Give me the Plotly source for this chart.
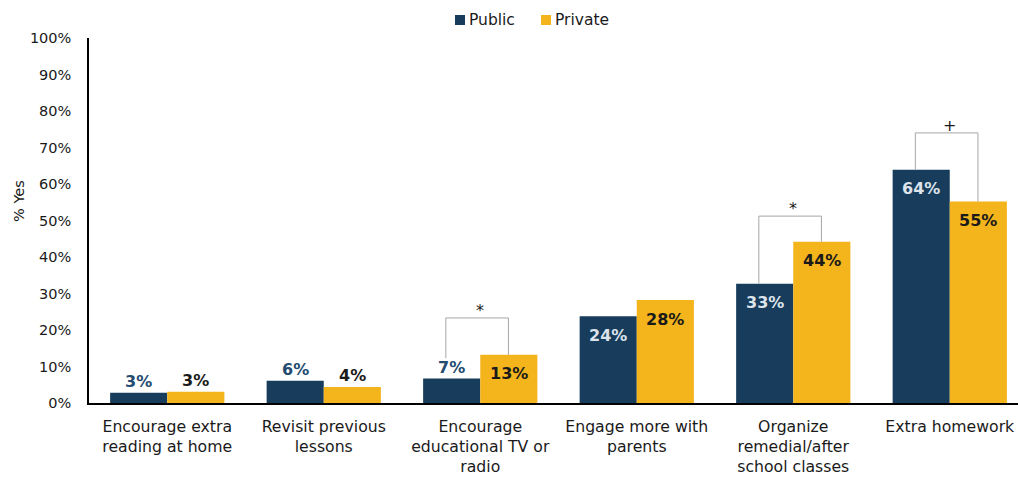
import plotly.graph_objects as go

categories = [
    "Encourage extra<br>reading at home",
    "Revisit previous<br>lessons",
    "Encourage<br>educational TV or<br>radio",
    "Engage more with<br>parents",
    "Organize<br>remedial/after<br>school classes",
    "Extra homework",
]
public_vals = [2.8, 6.1, 6.7, 23.8, 32.7, 63.9]
private_vals = [3.1, 4.4, 13.2, 28.2, 44.2, 55.2]
public_labels = ["3%", "6%", "7%", "24%", "33%", "64%"]
private_labels = ["3%", "4%", "13%", "28%", "44%", "55%"]
significance = ["", "", "*", "", "*", "+"]
bracket_levels = [None, None, 23.3, None, 51.2, 74.0]
y_ticks = list(range(0, 101, 10))
y_tick_text = ["%d%%" % v for v in y_ticks]
series_names = ["Public", "Private"]

NAVY = "#173C5C"
GOLD = "#F4B41B"
FONT = "DejaVu Sans"

L, T, B, W, H = 89, 38, 74, 1018, 477
PW = W - L
PH = H - T - B


def px_x(px):
    return (px - L) / PW


def px_y(py):
    return (H - B - py) / PH


fig = go.Figure()
fig.add_trace(go.Bar(name=series_names[0], x=list(range(len(categories))), y=public_vals,
                     marker=dict(color=NAVY, line=dict(width=0))))
fig.add_trace(go.Bar(name=series_names[1], x=list(range(len(categories))), y=private_vals,
                     marker=dict(color=GOLD, line=dict(width=0))))

off = 0.1825
annotations = []
for i in range(len(categories)):
    for val, lab, sgn, series in ((public_vals[i], public_labels[i], -1, "pub"),
                                  (private_vals[i], private_labels[i], 1, "priv")):
        inside = val >= 10
        if series == "pub":
            color = "#DCE3EB" if inside else "#244B70"
        else:
            color = "#1A1A1A"
        annotations.append(dict(
            x=i + sgn * off, y=val, xref="x", yref="y", text="<b>%s</b>" % lab,
            showarrow=False, yanchor="middle", yshift=-19 if inside else 11,
            font=dict(family=FONT, size=16, color=color)))

shapes = []
for i, s in enumerate(significance):
    if not s:
        continue
    top = bracket_levels[i]
    pv = public_vals[i] + (5.6 if public_vals[i] < 10 else 0)
    qv = private_vals[i] + (5.6 if private_vals[i] < 10 else 0)
    xl, xr = i - 0.22, i + 0.18
    shapes.append(dict(type="path", xref="x", yref="y",
                       path=f"M {xl} {pv} L {xl} {top} L {xr} {top} L {xr} {qv}",
                       line=dict(color="#A6A6A6", width=1)))
    annotations.append(dict(x=i, y=top, xref="x", yref="y", text=s, showarrow=False,
                            yanchor="bottom", yshift=-4,
                            font=dict(family=FONT, size=16, color="#1A1A1A")))

# y-axis title
annotations.append(dict(x=px_x(19), y=px_y(201), xref="paper", yref="paper", text="% Yes",
                        textangle=-90, showarrow=False, xanchor="center", yanchor="middle",
                        font=dict(family=FONT, size=14.5, color="#1A1A1A")))

# custom legend
for name, color, mx in ((series_names[0], NAVY, 455), (series_names[1], GOLD, 541)):
    shapes.append(dict(type="rect", xref="paper", yref="paper",
                       x0=px_x(mx), x1=px_x(mx + 10), y0=px_y(25), y1=px_y(15),
                       fillcolor=color, line=dict(width=0)))
    annotations.append(dict(x=px_x(mx + 12), y=px_y(20), xref="paper", yref="paper",
                            text=name, showarrow=False, xanchor="left", yanchor="middle",
                            font=dict(family=FONT, size=15.5, color="#1A1A1A")))

fig.update_layout(
    width=W, height=H,
    margin=dict(l=L, r=0, t=T, b=B),
    paper_bgcolor="white", plot_bgcolor="white",
    barmode="group", bargap=0.27, bargroupgap=0,
    font=dict(family=FONT, size=14, color="#1A1A1A"),
    showlegend=False,
    xaxis=dict(tickmode="array", tickvals=list(range(len(categories))), ticktext=categories,
               range=[-0.5, 5.436], showline=True, linecolor="black", linewidth=1.5,
               ticks="", showgrid=False, zeroline=False, ticklabelstandoff=8,
               tickfont=dict(family=FONT, size=15.7, color="#1A1A1A")),
    yaxis=dict(range=[0, 100], tickmode="array", tickvals=y_ticks, ticktext=y_tick_text,
               showline=True, linecolor="black", linewidth=1.5, ticks="", showgrid=False,
               zeroline=False, ticklabelstandoff=13,
               tickfont=dict(family=FONT, size=14.5, color="#1A1A1A")),
    annotations=annotations, shapes=shapes,
)

fig.write_html("out.html")
